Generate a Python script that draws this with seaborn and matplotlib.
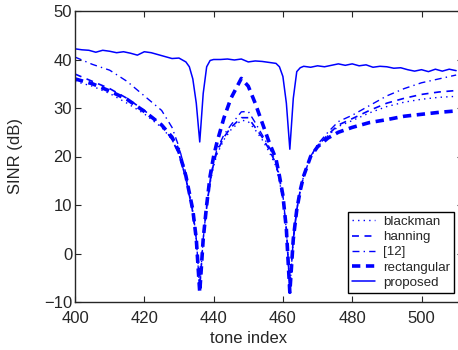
import numpy as np
import pandas as pd
import matplotlib
matplotlib.use("Agg")
import matplotlib.pyplot as plt
import seaborn as sns

sns.set_style("ticks")
plt.rcParams.update({
    "font.family": ["Liberation Sans", "DejaVu Sans"],
    "lines.scale_dashes": False,
    "xtick.direction": "in",
    "ytick.direction": "in",
    "xtick.top": True,
    "ytick.right": True,
    "axes.linewidth": 1.0,
})

# ---------------------------------------------------------------------------
# data
# ---------------------------------------------------------------------------

tone = [400, 405, 410, 415, 420, 425, 428, 430, 432, 434, 435, 436, 437, 438,
        439, 440, 441, 443, 445, 448, 450, 452, 454, 456, 458, 459, 460, 461,
        462, 463, 464, 465, 466, 468, 470, 473, 476, 480, 485, 490, 495, 500,
        505, 510]

blackman = [35.5, 34.5, 33.0, 31.0, 28.8, 26.0, 23.5, 20.5, 15.5, 8.5, 3.0, -7.5,
            3.0, 9.5, 14.5, 18.0, 20.5, 23.5, 25.5, 27.5, 27.2, 25.5, 23.5, 21.0,
            18.0, 15.0, 11.0, 5.0, -7.5, 3.0, 9.0, 13.0, 16.0, 20.0, 22.0, 24.3,
            26.2, 27.4, 29.0, 30.3, 31.2, 31.8, 32.2, 32.4]

hanning = [37.0, 35.5, 34.0, 32.0, 29.5, 26.5, 23.5, 20.5, 15.5, 8.5, 3.0, -7.0,
           3.0, 9.5, 15.0, 18.5, 21.0, 24.0, 26.0, 28.0, 28.0, 26.0, 24.0, 21.5,
           18.5, 15.5, 11.5, 5.0, -7.0, 3.0, 9.0, 13.0, 16.0, 20.0, 22.2, 24.5,
           26.5, 27.8, 29.5, 31.0, 32.0, 32.8, 33.3, 33.6]

ref12 = [40.5, 39.0, 37.8, 35.5, 32.5, 29.5, 26.0, 22.0, 16.5, 9.0, 3.0, -7.0,
         3.0, 10.0, 15.0, 19.0, 21.5, 24.5, 26.5, 29.2, 29.3, 27.0, 24.5, 22.0,
         19.0, 16.0, 12.0, 5.0, -7.5, 3.0, 9.0, 13.0, 16.0, 20.0, 22.5, 25.0,
         27.2, 28.5, 30.5, 32.5, 34.0, 35.2, 36.0, 36.8]

rectangular = [36.0, 35.0, 33.5, 31.8, 29.3, 26.5, 24.0, 21.0, 16.0, 9.0, 3.0, -8.0,
               3.0, 10.0, 16.0, 20.0, 23.0, 28.0, 32.0, 36.1, 34.5, 31.0, 27.0, 23.0,
               19.5, 16.0, 12.0, 5.0, -8.0, 3.0, 9.0, 13.0, 16.0, 20.0, 22.0, 23.8,
               25.0, 26.0, 27.0, 27.6, 28.3, 28.7, 29.1, 29.4]

tone_prop = [400, 402, 404, 406, 408, 410, 412, 414, 416, 418, 420, 422, 424, 426,
             428, 430, 432, 433, 434, 435, 436, 437, 438, 439, 440, 442, 444, 446,
             448, 450, 452, 454, 456, 458, 459, 460, 461, 462, 463, 464, 465, 466,
             468, 470, 472, 474, 476, 478, 480, 482, 484, 486, 488, 490, 492, 494,
             496, 498, 500, 502, 504, 506, 508, 510]

proposed = [42.2, 42.0, 41.9, 41.5, 41.9, 41.7, 41.4, 41.6, 41.3, 40.9, 41.6, 41.4,
            41.0, 40.6, 40.2, 40.3, 39.5, 38.5, 36.0, 31.0, 23.0, 33.0, 38.5, 39.8,
            40.0, 40.0, 40.1, 39.9, 40.1, 39.5, 39.7, 39.6, 39.4, 39.2, 38.5, 36.5,
            31.0, 21.5, 32.0, 37.5, 38.3, 38.6, 38.4, 38.7, 38.5, 38.8, 39.1, 38.8,
            39.1, 38.7, 38.9, 38.4, 38.6, 38.5, 38.2, 38.3, 37.9, 37.6, 37.9, 37.5,
            38.0, 37.6, 38.0, 37.7]

x_ticks = [400, 420, 440, 460, 480, 500]
y_ticks = [-10, 0, 10, 20, 30, 40, 50]

# ---------------------------------------------------------------------------
# plot
# ---------------------------------------------------------------------------

BLUE = "#0000ff"
fig = plt.figure(figsize=(4.58, 3.5), dpi=100)
ax = fig.add_axes([75 / 458, 1 - 302 / 350, 112 * 3.465 / 458, 291 / 350])

series = [
    ("blackman",    tone,      blackman,    dict(lw=1.0, dashes=(1, 3))),
    ("hanning",     tone,      hanning,     dict(lw=1.2, dashes=(5, 4))),
    ("[12]",        tone,      ref12,       dict(lw=1.0, dashes=(5, 3, 1, 3))),
    ("rectangular", tone,      rectangular, dict(lw=2.6, dashes=(6, 4))),
    ("proposed",    tone_prop, proposed,    dict(lw=1.1)),
]

for name, xs, ys, style in series:
    df = pd.DataFrame({"tone": xs, "sinr": ys})
    sns.lineplot(data=df, x="tone", y="sinr", ax=ax, color=BLUE,
                 linewidth=style["lw"], label=name)
    line = ax.get_lines()[-1]
    if "dashes" in style:
        line.set_dashes(style["dashes"])

ax.set_xlim(400, 512)
ax.set_ylim(-10, 50)
ax.set_xticks(x_ticks)
ax.set_yticks(y_ticks)
ax.tick_params(labelsize=12, length=4, width=0.8)
ax.tick_params(axis="x", pad=6.5)
ax.tick_params(axis="y", pad=2)
ax.set_xlabel("tone index", fontsize=12)
ax.set_ylabel("SINR (dB)", fontsize=12)
ax.xaxis.set_label_coords(0.448, -0.10)
ax.yaxis.set_label_coords(-0.134, 0.5)

leg = ax.legend(loc="lower right", bbox_to_anchor=(454 / 458, 1 - 293 / 350),
                bbox_transform=fig.transFigure, fontsize=9.6, frameon=True,
                fancybox=False, framealpha=1, edgecolor="black",
                handlelength=1.7, handletextpad=0.6, labelspacing=0.22,
                borderpad=0.3, borderaxespad=0)
leg.get_frame().set_linewidth(1.0)

fig.savefig("out.png", dpi=100)
